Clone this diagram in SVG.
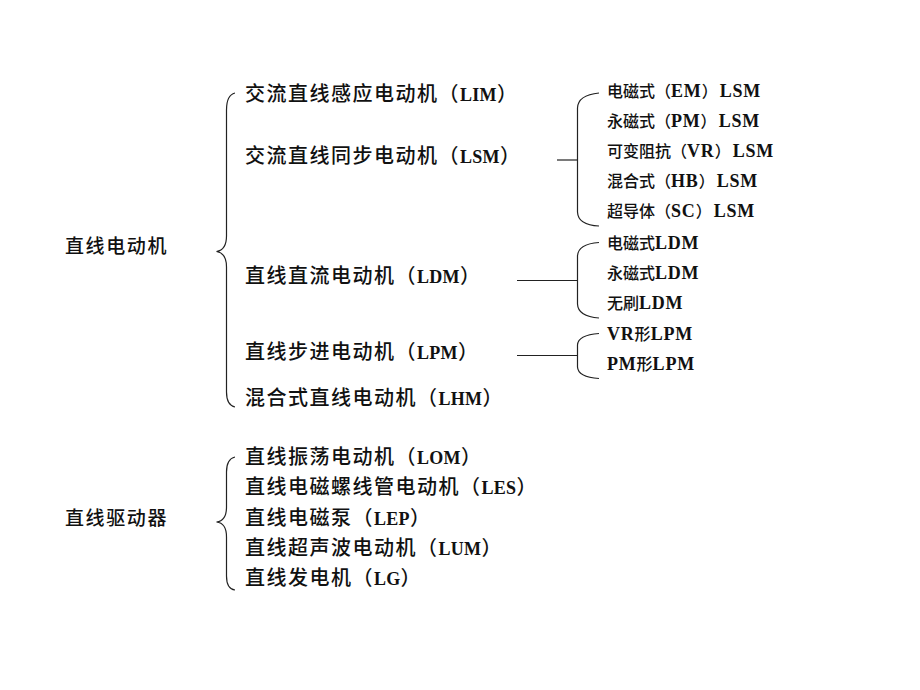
<svg xmlns="http://www.w3.org/2000/svg" width="920" height="690" viewBox="0 0 920 690">
<style>
.zh { font-family: "Noto Sans CJK SC", "Noto Sans", sans-serif; font-weight: 500; fill: #111; }
.t1 { font-size: 19px; letter-spacing: 1.6px; }
.t2 { font-size: 20px; letter-spacing: 1.5px; }
.t3 { font-size: 16px; letter-spacing: 0px; }
.l2 { font-family: "Liberation Serif", serif; font-weight: bold; font-size: 18px; letter-spacing: 0.3px; }
.l3 { font-family: "Liberation Serif", serif; font-weight: bold; font-size: 18px; letter-spacing: 0.8px; }
.br { fill: none; stroke: #222; stroke-width: 1.2; }
</style>
<rect width="920" height="690" fill="#ffffff"/>

<g id="connectors">
  <path class="br" d="M235,93 Q226.5,95 226.5,110 L226.5,236 Q226.5,250 216.5,251.5 Q226.5,253 226.5,267 L226.5,392 Q226.5,405 235,407"/>
  <path class="br" d="M235,457 Q226.5,459 226.5,472 L226.5,507 Q226.5,521 216.5,522 Q226.5,523 226.5,537 L226.5,576 Q226.5,589 235,590"/>
  <path class="br" d="M599,93 Q578,95 577.5,108 L577.5,212 Q578,225 599,226"/>
  <path class="br" d="M557,160 H577.5"/>
  <path class="br" d="M599,242.5 Q578,244 577.5,256 L577.5,304 Q578,316.5 599,318"/>
  <path class="br" d="M517,280.5 H577.5"/>
  <path class="br" d="M599,333.5 Q578,335 577.5,345 L577.5,367 Q578,377 599,378.5"/>
  <path class="br" d="M517,355.5 H577.5"/>
</g>

<g id="n-linear-motor"><text class="zh t1" x="65" y="253">直线电动机</text></g>
<g id="n-linear-actuator"><text class="zh t1" x="65" y="525">直线驱动器</text></g>

<g id="n-lim"><text class="zh t2" x="245" y="101">交流直线感应电动机（<tspan class="l2">LIM</tspan>）</text></g>
<g id="n-lsm"><text class="zh t2" x="245" y="163">交流直线同步电动机（<tspan class="l2">LSM</tspan>）</text></g>
<g id="n-ldm"><text class="zh t2" x="245" y="283">直线直流电动机（<tspan class="l2">LDM</tspan>）</text></g>
<g id="n-lpm"><text class="zh t2" x="245" y="359">直线步进电动机（<tspan class="l2">LPM</tspan>）</text></g>
<g id="n-lhm"><text class="zh t2" x="245" y="405">混合式直线电动机（<tspan class="l2">LHM</tspan>）</text></g>

<g id="n-lom"><text class="zh t2" x="245" y="464">直线振荡电动机（<tspan class="l2">LOM</tspan>）</text></g>
<g id="n-les"><text class="zh t2" x="245" y="494">直线电磁螺线管电动机（<tspan class="l2">LES</tspan>）</text></g>
<g id="n-lep"><text class="zh t2" x="245" y="524.5">直线电磁泵（<tspan class="l2">LEP</tspan>）</text></g>
<g id="n-lum"><text class="zh t2" x="245" y="555">直线超声波电动机（<tspan class="l2">LUM</tspan>）</text></g>
<g id="n-lg"><text class="zh t2" x="245" y="585">直线发电机（<tspan class="l2">LG</tspan>）</text></g>

<g id="n-em-lsm"><text class="zh t3" x="607" y="97">电磁式（<tspan class="l3">EM</tspan>）<tspan class="l3" dx="2">LSM</tspan></text></g>
<g id="n-pm-lsm"><text class="zh t3" x="607" y="127">永磁式（<tspan class="l3">PM</tspan>）<tspan class="l3" dx="2">LSM</tspan></text></g>
<g id="n-vr-lsm"><text class="zh t3" x="607" y="157">可变阻抗（<tspan class="l3">VR</tspan>）<tspan class="l3" dx="2">LSM</tspan></text></g>
<g id="n-hb-lsm"><text class="zh t3" x="607" y="187">混合式（<tspan class="l3">HB</tspan>）<tspan class="l3" dx="2">LSM</tspan></text></g>
<g id="n-sc-lsm"><text class="zh t3" x="607" y="216.5">超导体（<tspan class="l3">SC</tspan>）<tspan class="l3" dx="2">LSM</tspan></text></g>

<g id="n-em-ldm"><text class="zh t3" x="607" y="248.5">电磁式<tspan class="l3">LDM</tspan></text></g>
<g id="n-pm-ldm"><text class="zh t3" x="607" y="278.5">永磁式<tspan class="l3">LDM</tspan></text></g>
<g id="n-bl-ldm"><text class="zh t3" x="607" y="309">无刷<tspan class="l3">LDM</tspan></text></g>

<g id="n-vr-lpm"><text class="zh t3" x="607" y="339.5"><tspan class="l3">VR</tspan>形<tspan class="l3">LPM</tspan></text></g>
<g id="n-pm-lpm"><text class="zh t3" x="607" y="369.5"><tspan class="l3">PM</tspan>形<tspan class="l3">LPM</tspan></text></g>
</svg>
